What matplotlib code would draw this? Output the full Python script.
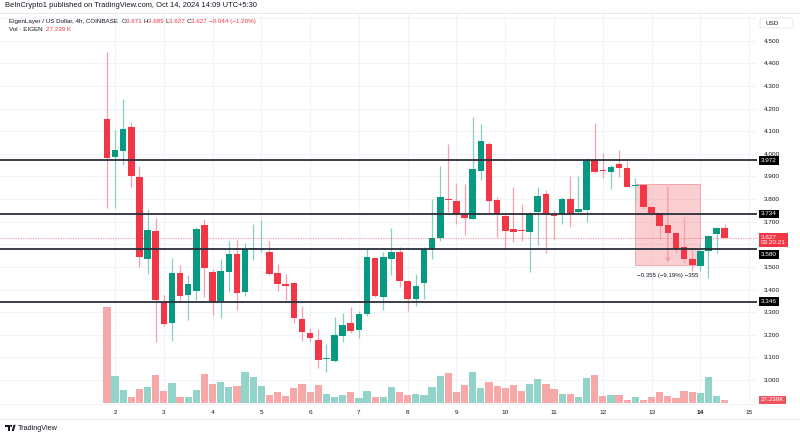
import matplotlib
matplotlib.use("Agg")
import matplotlib.pyplot as plt
import matplotlib.transforms as mtransforms
from matplotlib.patches import FancyBboxPatch, Polygon, Circle, Rectangle
from matplotlib.lines import Line2D

plt.rcParams['font.family'] = ['Liberation Sans', 'DejaVu Sans']

# ---------------- data (EIGEN/USD, 4h candles) ----------------
opens = [4.154, 3.984, 4.011, 4.117, 3.899, 3.534, 3.659, 3.346, 3.253, 3.472,
         3.376, 3.392, 3.685, 3.476, 3.351, 3.476, 3.556, 3.390, 3.580, 3.576,
         3.567, 3.472, 3.424, 3.427, 3.270, 3.209, 3.177, 3.091, 3.085, 3.196,
         3.251, 3.221, 3.290, 3.538, 3.368, 3.534, 3.564, 3.438, 3.357, 3.427,
         3.579, 3.629, 3.798, 3.793, 3.729, 3.711, 3.924, 4.042, 3.796, 3.726,
         3.666, 3.661, 3.653, 3.741, 3.822, 3.731, 3.732, 3.800, 3.744, 3.752,
         3.973, 3.926, 3.921, 3.953, 3.939, 3.857, 3.862, 3.766, 3.737, 3.685,
         3.648, 3.586, 3.537, 3.503, 3.571, 3.644, 3.671]
highs = [4.449, 4.105, 4.242, 4.142, 3.946, 3.756, 3.717, 3.376, 3.538, 3.508,
         3.464, 3.678, 3.712, 3.489, 3.534, 3.615, 3.619, 3.604, 3.690, 3.708,
         3.615, 3.513, 3.469, 3.430, 3.327, 3.231, 3.224, 3.159, 3.280, 3.295,
         3.324, 3.305, 3.578, 3.540, 3.567, 3.671, 3.589, 3.440, 3.469, 3.588,
         3.800, 3.946, 4.042, 3.870, 3.865, 4.161, 4.130, 4.054, 3.808, 3.737,
         3.852, 3.777, 3.744, 3.855, 3.840, 3.752, 3.810, 3.902, 3.902, 3.981,
         4.138, 4.002, 3.951, 4.017, 3.968, 3.895, 3.862, 3.766, 3.737, 3.685,
         3.648, 3.722, 3.579, 3.601, 3.641, 3.678, 3.689]
lows = [3.762, 3.762, 3.950, 3.852, 3.498, 3.467, 3.167, 3.240, 3.174, 3.349,
        3.265, 3.354, 3.368, 3.287, 3.275, 3.388, 3.310, 3.371, 3.530, 3.565,
        3.464, 3.395, 3.354, 3.251, 3.174, 3.169, 3.052, 3.034, 3.080, 3.169,
        3.206, 3.184, 3.285, 3.366, 3.310, 3.464, 3.413, 3.305, 3.327, 3.357,
        3.534, 3.616, 3.744, 3.688, 3.641, 3.711, 3.884, 3.740, 3.631, 3.582,
        3.611, 3.615, 3.479, 3.597, 3.563, 3.622, 3.688, 3.678, 3.737, 3.697,
        3.914, 3.891, 3.843, 3.899, 3.855, 3.793, 3.754, 3.729, 3.622, 3.640,
        3.560, 3.518, 3.483, 3.483, 3.452, 3.563, 3.627]
closes = [3.980, 4.017, 4.108, 3.902, 3.545, 3.663, 3.354, 3.246, 3.474, 3.373,
          3.424, 3.668, 3.495, 3.343, 3.483, 3.556, 3.383, 3.579, 3.584, 3.580,
          3.469, 3.424, 3.415, 3.273, 3.211, 3.184, 3.088, 3.095, 3.199, 3.243,
          3.218, 3.290, 3.545, 3.373, 3.542, 3.564, 3.438, 3.358, 3.417, 3.579,
          3.626, 3.810, 3.794, 3.732, 3.714, 3.933, 4.057, 3.793, 3.734, 3.660,
          3.653, 3.657, 3.732, 3.815, 3.732, 3.727, 3.800, 3.732, 3.756, 3.973,
          3.921, 3.922, 3.943, 3.939, 3.855, 3.861, 3.766, 3.740, 3.681, 3.648,
          3.577, 3.537, 3.507, 3.571, 3.636, 3.670, 3.627]
volumes_k = [798, 225, 110, 55, 118, 138, 233, 105, 165, 55,
             55, 107, 245, 163, 176, 138, 146, 256, 217, 140,
             68, 91, 58, 124, 159, 93, 151, 74, 52, 66,
             93, 47, 101, 50, 52, 138, 93, 68, 74, 68,
             134, 229, 253, 91, 151, 256, 124, 176, 143, 124,
             149, 101, 163, 200, 157, 116, 74, 74, 55, 212,
             233, 60, 66, 68, 25, 52, 27, 50, 91, 60,
             47, 105, 93, 88, 215, 60, 27.239]

first_bar_day = 2 - 1 / 6      # first 4h bar, in "day of October" units
bar_step_days = 1 / 6          # 4 hours
day_ticks = list(range(2, 16))
bold_day = 14
level_lines = [3.972, 3.734, 3.580, 3.346]
price_ticks = [4.5, 4.4, 4.3, 4.2, 4.1, 4.0, 3.9, 3.8, 3.7, 3.5, 3.4, 3.3, 3.2, 3.1, 3.0]
grid_prices = [2.9 + 0.1 * k for k in range(18)]
last_price = 3.627
countdown = "03:20:21"
last_volume_label = "27.239K"
measure_start_bar, measure_end_bar = 65, 73
measure_top, measure_bottom = 3.865, 3.510
measure_text = "\u22120.355 (\u22129.19%) \u2212355"

header = "BeInCrypto1 published on TradingView.com, Oct 14, 2024 14:09 UTC+5:30"
legend1 = [("EigenLayer / US Dollar, 4h, COINBASE  ", "dark"), ("O", "dark"), ("3.671 ", "red"),
           ("H", "dark"), ("3.689 ", "red"), ("L", "dark"), ("3.627 ", "red"),
           ("C", "dark"), ("3.627 ", "red"), ("\u22120.044 (\u22121.20%)", "red")]
legend2 = [("Vol \u00b7 EIGEN  ", "dark"), ("27.239 K", "red")]

# ---------------- style ----------------
W, H = 800, 436
UP, DOWN = "#089981", "#f23645"
UP_WICK, DOWN_WICK = "#86cfc2", "#f7a2aa"
UP_VOL, DOWN_VOL = "#92d3ca", "#f7a9a9"
DARK = "#131722"
GRID = "#f0f3fa"
FS = 4.6

fig = plt.figure(figsize=(W / 100, H / 100), dpi=100)
fig.patch.set_facecolor("white")

pos = [0, 1 - 403.3 / H, 757 / W, (403.3 - 13) / H]
vax = fig.add_axes(pos)
ax = fig.add_axes(pos, sharex=vax)
ax.set_facecolor("none")

xs = [first_bar_day + i * bar_step_days for i in range(len(opens))]
ax.set_xlim(-0.358, 15.161)
ax.set_ylim(2.897, 4.6225)
vax.set_ylim(0, 3221)
px_per_price = (403.3 - 13) / (4.6225 - 2.897)

for a in (ax, vax):
    for s in a.spines.values():
        s.set_visible(False)

# grid (drawn in the volume axes so it stays behind bars)
vax.set_xticks(day_ticks)
vax.grid(axis="x", color=GRID, lw=0.8)
vax.tick_params(left=False, labelleft=False, bottom=False, labelbottom=False)
gtr = mtransforms.blended_transform_factory(vax.transAxes, ax.transData)
for gp in grid_prices:
    vax.add_line(Line2D([0, 1], [gp, gp], transform=gtr, color=GRID, lw=0.8, zorder=0))

# volume bars
is_up = [c >= o for o, c in zip(opens, closes)]
vax.bar(xs, volumes_k, width=0.148, color=[UP_VOL if u else DOWN_VOL for u in is_up],
        linewidth=0, zorder=2)

# measure box
mx0, mx1 = xs[measure_start_bar], xs[measure_end_bar]
ax.add_patch(Rectangle((mx0, measure_bottom), mx1 - mx0, measure_top - measure_bottom,
                       facecolor=DOWN, alpha=0.24, edgecolor="none", zorder=1))
ax.add_patch(Rectangle((mx0, measure_bottom), mx1 - mx0, measure_top - measure_bottom,
                       facecolor="none", edgecolor="#f7a6ae", lw=0.7, zorder=1.1))
mmid = (mx0 + mx1) / 2
ax.annotate("", xy=(mmid, measure_bottom), xytext=(mmid, measure_top),
            arrowprops=dict(arrowstyle="->,head_length=0.25,head_width=0.15", color="#f08a95", lw=0.7),
            zorder=1.2)
ax.annotate(measure_text, xy=(mmid, measure_bottom), xytext=(0, -6), textcoords="offset points",
            ha="center", va="top", fontsize=FS - 0.2, color=DARK, zorder=6)

# candles
ax.vlines(xs, lows, highs, colors=[UP_WICK if u else DOWN_WICK for u in is_up], lw=0.9, zorder=2)
bottoms = [min(o, c) for o, c in zip(opens, closes)]
heights = [max(abs(c - o), 0.0045) for o, c in zip(opens, closes)]
ax.bar(xs, heights, bottom=bottoms, width=0.135, color=[UP if u else DOWN for u in is_up],
       linewidth=0, zorder=3)

# horizontal levels
for lv in level_lines:
    ax.axhline(lv, color="#2a2e39", lw=1.3, zorder=4)
ax.axhline(last_price, color=DOWN, lw=0.6, ls=(0, (1.5, 1.5)), alpha=0.6, zorder=4)

# axes ticks
ax.yaxis.tick_right()
ax.set_yticks(price_ticks, labels=[f"{p:.3f}" for p in price_ticks])
ax.tick_params(axis="y", length=0, pad=5, labelsize=FS, labelcolor=DARK)
ax.set_xticks(day_ticks, labels=[str(d) for d in day_ticks])
ax.tick_params(axis="x", length=0, pad=4.8, labelsize=FS, labelcolor=DARK)
for t in ax.get_xticklabels():
    if t.get_text() == str(bold_day):
        t.set_fontweight("bold")
ax.grid(False)

# price tags (pushed down when they would collide with the last-price tag)
tag_tr = mtransforms.blended_transform_factory(fig.transFigure, ax.transData)
for lv in level_lines:
    dy = (last_price - lv) * px_per_price
    shift_px = -(16.6 - dy) if 0 < dy < 16.6 else 0.0
    tr = tag_tr + mtransforms.ScaledTranslation(0, shift_px / 100, fig.dpi_scale_trans)
    ax.text(761 / W, lv, f"{lv:.3f}", transform=tr, fontsize=FS, color="white",
            va="center", ha="left", zorder=10,
            bbox=dict(boxstyle="square,pad=0.3", fc="#000000", ec="none"))
cur_tr = tag_tr + mtransforms.ScaledTranslation(0, 3.6 / 100, fig.dpi_scale_trans)
ax.text(761 / W, last_price, f"{last_price:.3f}\n{countdown}", transform=cur_tr, fontsize=FS,
        color="white", va="top", ha="left", linespacing=1.15, zorder=11,
        bbox=dict(boxstyle="square,pad=0.3", fc=DOWN, ec="none"))
vtag_tr = mtransforms.blended_transform_factory(fig.transFigure, vax.transData)
vax.text(761 / W, volumes_k[-1], last_volume_label, transform=vtag_tr, fontsize=FS, color="white",
         va="center", ha="left", zorder=10, clip_on=False,
         bbox=dict(boxstyle="square,pad=0.3", fc="#f0525e", ec="none"))

# USD box
fig.patches.append(FancyBboxPatch((760 / W, 1 - 28 / H), 33 / W, 10 / H,
                                  boxstyle="round,pad=0,rounding_size=0.004",
                                  transform=fig.transFigure, fc="white", ec="#e0e3eb", lw=0.6))
fig.text(766 / W, 1 - 23.2 / H, "USD", fontsize=FS, color=DARK, va="center", ha="left")

# frame lines
fig.add_artist(Line2D([0, 1], [1 - 13 / H, 1 - 13 / H], transform=fig.transFigure, color="#e0e3eb", lw=0.6))
fig.add_artist(Line2D([0, 757 / W], [1 - 403.5 / H, 1 - 403.5 / H], transform=fig.transFigure, color="#eef0f4", lw=0.6))
fig.add_artist(Line2D([0, 1], [1 - 418.5 / H, 1 - 418.5 / H], transform=fig.transFigure, color="#e0e3eb", lw=0.6))

# header and legend
fig.text(5 / W, 1 - 5.8 / H, header, fontsize=5.4, color=DARK, va="center", ha="left")
renderer = fig.canvas.get_renderer()
cmap = {"dark": DARK, "red": DOWN}


def draw_segments(segs, x_px, y_px, size):
    x = x_px
    for s, c in segs:
        t = fig.text(x / W, 1 - y_px / H, s, fontsize=size, color=cmap[c], va="center", ha="left")
        x = t.get_window_extent(renderer).x1


draw_segments(legend1, 9.3, 21.7, 4.5)
draw_segments(legend2, 9.3, 29.6, 4.5)

# TradingView logo
fig.patches.append(Polygon([(5, H - 424.8), (9.6, H - 424.8), (9.6, H - 431), (7.6, H - 431),
                            (7.6, H - 426.8), (5, H - 426.8)], closed=True,
                           transform=mtransforms.IdentityTransform(), fc=DARK, ec="none"))
fig.patches.append(Circle((11.2, H - 425.9), 1.1, transform=mtransforms.IdentityTransform(), fc=DARK, ec="none"))
fig.patches.append(Polygon([(11.6, H - 431), (13.6, H - 424.8), (15.6, H - 424.8), (13.8, H - 431)],
                           closed=True, transform=mtransforms.IdentityTransform(), fc=DARK, ec="none"))
fig.text(17.5 / W, 1 - 428 / H, "TradingView", fontsize=FS + 0.6, color=DARK, va="center", ha="left")

fig.savefig("out.png", dpi=100, facecolor="white")
